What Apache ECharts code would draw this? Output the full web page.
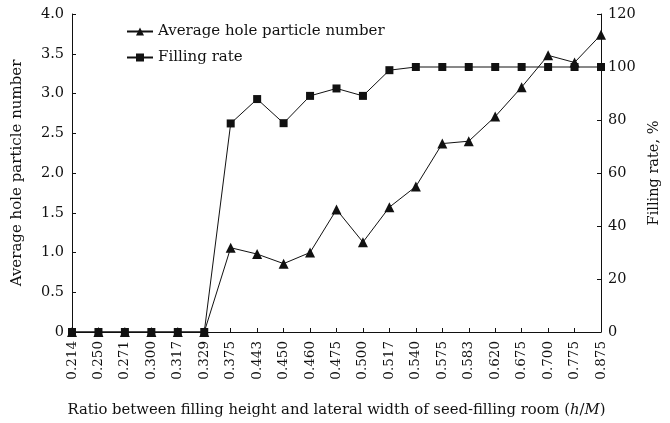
<!DOCTYPE html>
<html>
<head>
<meta charset="utf-8">
<script src="https://cdn.jsdelivr.net/npm/echarts@6/dist/echarts.min.js"></script>
<style>
  html, body { margin: 0; padding: 0; background: #fff; }
  #chart { width: 670px; height: 423px; }
</style>
</head>
<body>
<div id="chart"></div>
<script>
// h/M ratios along the x axis
const ratios = ['0.214','0.250','0.271','0.300','0.317','0.329','0.375','0.443','0.450','0.460','0.475',
                '0.500','0.517','0.540','0.575','0.583','0.620','0.675','0.700','0.775','0.875'];
// left axis: average hole particle number
const holeParticles = [0, 0, 0, 0, 0, 0, 1.06, 0.98, 0.86, 1.0, 1.54,
                       1.13, 1.57, 1.83, 2.37, 2.40, 2.71, 3.08, 3.48, 3.39, 3.74];
// right axis: filling rate %
const fillingRate = [0, 0, 0, 0, 0, 0, 78.7, 87.9, 78.8, 89.1, 91.9,
                     89.1, 98.8, 100, 100, 100, 100, 100, 100, 100, 100];

const serif = 'DejaVu Serif, Liberation Serif, serif';
const black = '#111';

var chart = echarts.init(document.getElementById('chart'));

chart.setOption({
  backgroundColor: '#fff',
  animation: false,
  textStyle: { fontFamily: serif, color: black },
  legend: {
    orient: 'vertical',
    left: 121,
    top: 19,
    itemGap: 11,
    itemWidth: 26,
    itemHeight: 10,
    textStyle: { fontFamily: serif, fontSize: 15, color: black },
    data: ['Average hole particle number', 'Filling rate']
  },
  grid: { left: 72, right: 69, top: 14, bottom: 90 },
  xAxis: {
    type: 'category',
    boundaryGap: false,
    data: ratios,
    name: 'Ratio between filling height and lateral width of seed-filling room ({i|h}/{i|M})',
    nameLocation: 'middle',
    nameGap: 71,
    nameTextStyle: {
      fontFamily: serif, fontSize: 14.8, color: black,
      rich: { i: { fontStyle: 'italic', fontFamily: serif, fontSize: 14.8, color: black } }
    },
    axisLine: { lineStyle: { color: black, width: 1 } },
    axisTick: { inside: true, length: 4, alignWithLabel: true, lineStyle: { color: black } },
    axisLabel: { rotate: 90, fontFamily: serif, fontSize: 13.5, color: black, margin: 9, interval: 0 },
    splitLine: { show: false }
  },
  yAxis: [
    {
      type: 'value',
      min: 0, max: 4, interval: 0.5,
      name: 'Average hole particle number',
      nameLocation: 'middle',
      nameGap: 47,
      nameRotate: 90,
      nameTextStyle: { fontFamily: serif, fontSize: 15, color: black },
      axisLine: { show: true, lineStyle: { color: black, width: 1 } },
      axisTick: { show: true, inside: true, length: 4, lineStyle: { color: black } },
      axisLabel: {
        fontFamily: serif, fontSize: 14.5, color: black, margin: 8,
        formatter: v => v === 0 ? '0' : v.toFixed(1)
      },
      splitLine: { show: false }
    },
    {
      type: 'value',
      min: 0, max: 120, interval: 20,
      name: 'Filling rate, %',
      nameLocation: 'middle',
      nameGap: 44,
      nameRotate: 90,
      nameTextStyle: { fontFamily: serif, fontSize: 14.5, color: black },
      axisLine: { show: true, lineStyle: { color: black, width: 1 } },
      axisTick: { show: true, inside: true, length: 4, lineStyle: { color: black } },
      axisLabel: { fontFamily: serif, fontSize: 14.5, color: black, margin: 7 },
      splitLine: { show: false }
    }
  ],
  series: [
    {
      name: 'Average hole particle number',
      type: 'line',
      yAxisIndex: 0,
      data: holeParticles,
      symbol: 'triangle',
      symbolSize: 10,
      itemStyle: { color: black },
      lineStyle: { color: black, width: 1 }
    },
    {
      name: 'Filling rate',
      type: 'line',
      yAxisIndex: 1,
      data: fillingRate,
      symbol: 'rect',
      symbolSize: 8,
      itemStyle: { color: black },
      lineStyle: { color: black, width: 1 }
    }
  ]
});
</script>
</body>
</html>
